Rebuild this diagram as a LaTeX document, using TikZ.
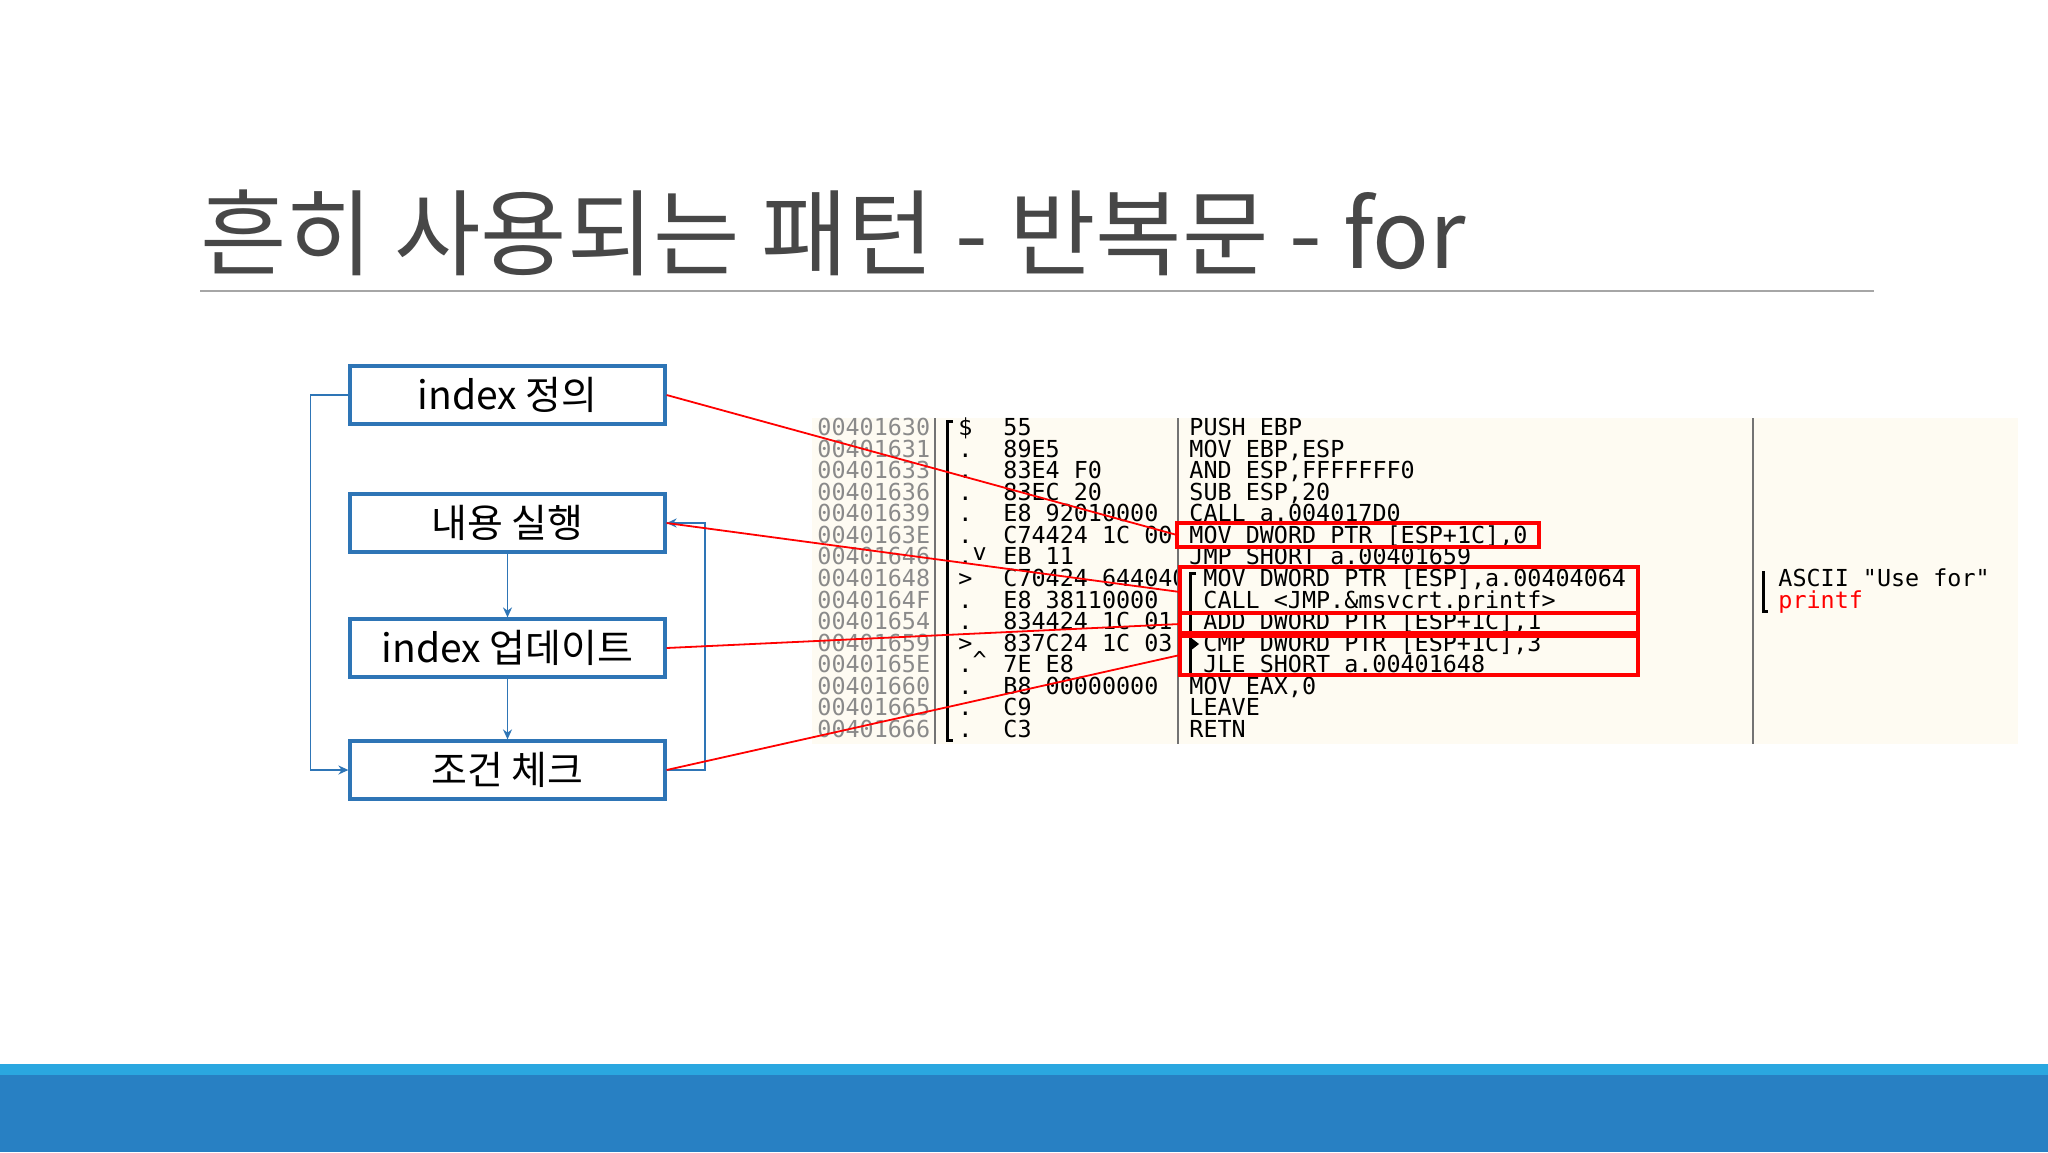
\documentclass[tikz,border=0pt]{standalone}
\usepackage{fontspec}
\setmonofont{DejaVu Sans Mono}
\newfontfamily\kr{Noto Sans CJK KR}
\usetikzlibrary{arrows.meta}
\definecolor{boxblue}{HTML}{2E75B6}
\definecolor{barlight}{HTML}{2AA7E0}
\definecolor{bardark}{HTML}{2880C3}
\definecolor{cream}{HTML}{FEFBF2}
\definecolor{addrgray}{HTML}{8A8A8A}
\tikzset{
  flow/.style={draw=boxblue,line width=1.6pt,minimum width=157.5pt,minimum height=29pt,inner sep=0,font=\kr\fontsize{19.5}{22}\selectfont,text=black},
  bluearr/.style={draw=boxblue,line width=0.9pt,-{Stealth[length=5pt,width=4.5pt]}},
  redline/.style={draw=red,line width=0.9pt},
  redbox/.style={draw=red,line width=1.6pt},
  asm/.style={anchor=west,inner sep=0,text height=7pt,text depth=1.5pt,font=\ttfamily\fontsize{11.7}{12}\selectfont},
}
\newcommand\asmrow[4]{%
  \node[asm,text=addrgray] (ad#1) at (817,{430+(#1-1)*21.57}) {#2};
  \node[asm] (sy#1) at (958,{430+(#1-1)*21.57}) {#3};
  \node[asm] (hx#1) at (1003,{430+(#1-1)*21.57}) {#4};
}
\newcommand\disrow[3]{%
  \node[asm] (ds#1) at (#2,{430+(#1-1)*21.57}) {#3};
}
\begin{document}
\begin{tikzpicture}[x=0.5pt,y=-0.5pt]
\useasboundingbox (0,0) rectangle (2048,1152);
\fill[white] (0,0) rectangle (2048,1152);
% title
\node[anchor=base west,inner sep=0,text=black!72,font=\kr\fontsize{47}{50}\selectfont] (title) at (200,268) {흔히 사용되는 패턴 - 반복문 - for};
\draw[black!35,line width=0.8pt] (200,291) -- (1874,291);
% bottom bar
\fill[barlight] (0,1064) rectangle (2048,1075);
\fill[bardark] (0,1075) rectangle (2048,1152);
% assembly panel
\fill[cream] (812,418) rectangle (2018,744);
\asmrow{1}{00401630}{\$}{55}
\asmrow{2}{00401631}{.}{89E5}
\asmrow{3}{00401633}{.}{83E4 F0}
\asmrow{4}{00401636}{.}{83EC 20}
\asmrow{5}{00401639}{.}{E8 92010000}
\asmrow{6}{0040163E}{.}{C74424 1C 00}
\asmrow{7}{00401646}{.\raisebox{2pt}{v}}{EB 11}
\asmrow{8}{00401648}{>}{C70424 644040}
\asmrow{9}{0040164F}{.}{E8 38110000}
\asmrow{10}{00401654}{.}{834424 1C 01}
\asmrow{11}{00401659}{>}{837C24 1C 03}
\asmrow{12}{0040165E}{.\raisebox{2pt}{\^{}}}{7E E8}
\asmrow{13}{00401660}{.}{B8 00000000}
\asmrow{14}{00401665}{.}{C9}
\asmrow{15}{00401666}{.}{C3}
\fill[cream] (1178,418) rectangle (1752,744);
\disrow{1}{1189}{PUSH EBP}
\disrow{2}{1189}{MOV EBP,ESP}
\disrow{3}{1189}{AND ESP,FFFFFFF0}
\disrow{4}{1189}{SUB ESP,20}
\disrow{5}{1189}{CALL a.004017D0}
\disrow{6}{1189}{MOV DWORD PTR [ESP+1C],0}
\disrow{7}{1189}{JMP SHORT a.00401659}
\disrow{8}{1203}{MOV DWORD PTR [ESP],a.00404064}
\disrow{9}{1203}{CALL <JMP.\&msvcrt.printf>}
\disrow{10}{1203}{ADD DWORD PTR [ESP+1C],1}
\disrow{11}{1203}{CMP DWORD PTR [ESP+1C],3}
\disrow{12}{1203}{JLE SHORT a.00401648}
\disrow{13}{1189}{MOV EAX,0}
\disrow{14}{1189}{LEAVE}
\disrow{15}{1189}{RETN}
\node[asm] (c1) at (1778,581) {ASCII "Use for"};
\node[asm,text=red] (c2) at (1778,602.6) {printf};
% separators and brackets
\draw[black!55,line width=0.8pt] (935,418) -- (935,744);
\draw[black!55,line width=0.8pt] (1178,418) -- (1178,744);
\draw[black!55,line width=0.8pt] (1753,418) -- (1753,744);
\draw[line width=1.5pt] (953,421) -- (947,421) -- (947,740) -- (953,740);
\draw[line width=1.5pt] (1196,573) -- (1190,573) -- (1190,674) -- (1196,674);
\draw[line width=1.5pt] (1763,571) -- (1763,611) -- (1768,611);
\fill (1190,637) -- (1199,644) -- (1190,651) -- cycle;
% red boxes
\draw[redbox] (1177,523) rectangle (1539,547);
\draw[redbox] (1180,567) rectangle (1638,613);
\draw[redbox] (1180,613) rectangle (1638,633);
\draw[redbox] (1180,636) rectangle (1638,675);
\coordinate (ra) at (1177,535);
\coordinate (rb) at (1180,592);
\coordinate (rc) at (1180,624);
\coordinate (rd) at (1180,655);
% flow boxes
\node[flow] (b1) at (507.5,395) {index 정의};
\node[flow] (b2) at (507.5,523) {내용 실행};
\node[flow] (b3) at (507.5,648) {index 업데이트};
\node[flow] (b4) at (507.5,770) {조건 체크};
\draw[bluearr] (b2) -- (b3);
\draw[bluearr] (b3) -- (b4);
\draw[bluearr] (b1.west) -- ++(-38,0) |- (b4.west);
\draw[bluearr] (b4.east) -- ++(38,0) |- (b2.east);
\draw[redline] (b1.east) -- (ra);
\draw[redline] (b2.east) -- (rb);
\draw[redline] (b3.east) -- (rc);
\draw[redline] (b4.east) -- (rd);
\end{tikzpicture}
\end{document}
